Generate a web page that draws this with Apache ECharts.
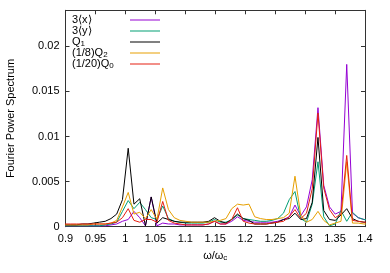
<!DOCTYPE html>
<html><head><meta charset="utf-8">
<script src="https://cdn.jsdelivr.net/npm/echarts@6/dist/echarts.min.js"></script>
<style>html,body{margin:0;padding:0;background:#fff}#c{width:390px;height:273px}</style>
</head><body><div id="c"></div>
<script>
const omega = [0.8991,0.9087,0.9183,0.9279,0.9375,0.9471,0.9567,0.9663,0.9759,0.9855,0.9951,1.0047,1.0143,1.0239,1.0335,1.0431,1.0527,1.0623,1.0719,1.0815,1.0911,1.1007,1.1103,1.1199,1.1295,1.1391,1.1487,1.1583,1.1679,1.1775,1.1871,1.1967,1.2063,1.2159,1.2255,1.2351,1.2447,1.2543,1.2639,1.2735,1.2831,1.2927,1.3023,1.3119,1.3215,1.3311,1.3407,1.3503,1.3599,1.3695,1.3791,1.3887,1.3983,1.4079];
const x3 = [0.0001,0.0001,0.0001,0.0001,0.0001,0.0001,0.0001,0.0001,0.0002,0.0003,0.0006,0.0008,0.0017,0.001,0.0001,0.0033,0.0001,0.0004,0.0003,0.0003,0.0002,0.0002,0.0002,0.0002,0.0002,0.0003,0.0006,0.0003,0.0003,0.0006,0.0011,0.0007,0.0006,0.0005,0.0005,0.0005,0.0005,0.0006,0.0008,0.0011,0.0024,0.0012,0.0022,0.0052,0.0132,0.0046,0.0022,0.0014,0.0017,0.018,0.0015,0.001,0.0008,0.0007];
const y3 = [0.0001,0.0001,0.0001,0.0001,0.0001,0.0001,0.0001,0.0002,0.0003,0.0005,0.0017,0.0029,0.002,0.0027,0.0019,0.001,0.0008,0.0023,0.0009,0.0006,0.0005,0.0004,0.0004,0.0004,0.0004,0.0005,0.0008,0.0005,0.0005,0.0008,0.0013,0.0009,0.0008,0.0007,0.0006,0.0006,0.0007,0.0009,0.0015,0.003,0.0039,0.0009,0.0005,0.0025,0.0072,0.0011,0.0001,0.0003,0.0018,0.0006,0.0016,0.001,0.0008,0.0007];
const q1 = [0.0002,0.0002,0.0002,0.0003,0.0003,0.0004,0.0005,0.0006,0.0009,0.0014,0.003,0.0087,0.0025,0.0031,0.0001,0.0033,0.0004,0.001,0.0008,0.0006,0.0005,0.0005,0.0005,0.0005,0.0005,0.0006,0.001,0.0006,0.0004,0.0008,0.0014,0.0009,0.0007,0.0003,0.0003,0.0003,0.0004,0.0005,0.0008,0.0009,0.0015,0.0008,0.0009,0.0027,0.0099,0.0018,0.0008,0.0007,0.0013,0.002,0.0009,0.0006,0.0005,0.0005];
const q2 = [0.0002,0.0002,0.0002,0.0002,0.0002,0.0003,0.0003,0.0003,0.0004,0.0007,0.0022,0.0038,0.0014,0.0016,0.0009,0.0019,0.0008,0.0043,0.0019,0.001,0.0007,0.0006,0.0005,0.0005,0.0005,0.0005,0.0006,0.0007,0.0009,0.002,0.0025,0.0024,0.0025,0.0011,0.0009,0.0008,0.0008,0.0009,0.001,0.0015,0.0056,0.0013,0.0005,0.0008,0.0017,0.0007,0.0002,0.0004,0.0006,0.0072,0.0004,0.0004,0.0003,0.0003];
const q0 = [0.0003,0.0003,0.0003,0.0003,0.0003,0.0003,0.0003,0.0003,0.0004,0.0005,0.001,0.002,0.0007,0.0005,0.0008,0.0008,0.0005,0.0028,0.0007,0.0004,0.0003,0.0002,0.0002,0.0002,0.0002,0.0003,0.0006,0.0003,0.0003,0.0008,0.0021,0.0006,0.0004,0.0003,0.0003,0.0003,0.0004,0.0005,0.0006,0.0011,0.0019,0.0009,0.0015,0.0042,0.0126,0.0043,0.0019,0.001,0.0014,0.0079,0.0007,0.0006,0.0005,0.0005];
const seriesNames = ['3⟨x⟩','3⟨y⟩','Q1','(1/8)Q2','(1/20)Q0'];
const legendRich = {
  '3⟨x⟩': '{t|3⟨x⟩}',
  '3⟨y⟩': '{t|3⟨y⟩}',
  'Q1': '{t|Q}{s|1}',
  '(1/8)Q2': '{t|(1/8)Q}{s|2}',
  '(1/20)Q0': '{t|(1/20)Q}{s|0}'
};
const seriesValues = [x3, y3, q1, q2, q0];
const colors = ['#9400d3','#009e73','#000000','#e69f00','#e51e10'];
const xTicks = {min: 0.9, max: 1.4, interval: 0.05};
const yTicks = {min: 0, max: 0.024, interval: 0.005};

const FONT = 'Liberation Sans, Arial, sans-serif';
const axisColor = '#333';
const chart = echarts.init(document.getElementById('c'), null, {renderer: 'canvas'});
const baseX = {
  type: 'value', min: xTicks.min, max: xTicks.max, interval: xTicks.interval,
  axisLine: {show: true, onZero: false, lineStyle: {color: axisColor, width: 1}},
  axisTick: {show: true, inside: true, length: 4, lineStyle: {color: axisColor}},
  splitLine: {show: false}
};
const baseY = {
  type: 'value', min: yTicks.min, max: yTicks.max, interval: yTicks.interval,
  axisLine: {show: true, onZero: false, lineStyle: {color: axisColor, width: 1}},
  axisTick: {show: true, inside: true, length: 4, lineStyle: {color: axisColor}},
  splitLine: {show: false}
};
chart.setOption({
  animation: false,
  backgroundColor: '#fff',
  textStyle: {fontFamily: FONT},
  grid: {left: 65.5, right: 25, top: 10.3, bottom: 46.3, containLabel: false, outerBoundsMode: 'none'},
  legend: {
    orient: 'vertical', left: 72, top: 14.5, align: 'right', padding: 0,
    itemGap: 0, itemWidth: 30, itemHeight: 1,
    icon: 'rect',
    data: seriesNames,
    formatter: n => legendRich[n],
    textStyle: {
      width: 53, fontSize: 11, color: '#000', fontFamily: FONT, lineHeight: 10.8,
      rich: {
        t: {fontSize: 11, fontFamily: FONT, color: '#000', lineHeight: 10.8, align: 'left'},
        s: {fontSize: 8, fontFamily: FONT, color: '#000', lineHeight: 2, align: 'left', verticalAlign: 'bottom'}
      }
    }
  },
  xAxis: [
    Object.assign({}, baseX, {
      position: 'bottom',
      axisLabel: {color: '#000', fontSize: 11, margin: 7, fontFamily: FONT},
      name: '{a|ω/ω}{b|c}', nameLocation: 'middle', nameGap: 19,
      nameTextStyle: {lineHeight: 12, rich: {
        a: {fontSize: 11, color: '#000', fontFamily: FONT, lineHeight: 12},
        b: {fontSize: 8, color: '#000', fontFamily: FONT, lineHeight: 2, verticalAlign: 'bottom'}
      }}
    }),
    Object.assign({}, baseX, {position: 'top', axisLabel: {show: false}})
  ],
  yAxis: [
    Object.assign({}, baseY, {
      position: 'left',
      axisLabel: {color: '#000', fontSize: 11, margin: 6, fontFamily: FONT, showMaxLabel: false},
      name: 'Fourier Power Spectrum', nameLocation: 'middle', nameGap: 49,
      nameTextStyle: {fontSize: 11, color: '#000', fontFamily: FONT}
    }),
    Object.assign({}, baseY, {position: 'right', axisLabel: {show: false}})
  ],
  series: seriesNames.map((n, i) => ({
    name: n, type: 'line', xAxisIndex: 0, yAxisIndex: 0,
    data: omega.map((w, j) => [w, seriesValues[i][j]]),
    symbol: 'none', clip: true,
    lineStyle: {color: colors[i], width: 1},
    itemStyle: {color: colors[i]},
    emphasis: {disabled: true}
  }))
});
</script></body></html>
